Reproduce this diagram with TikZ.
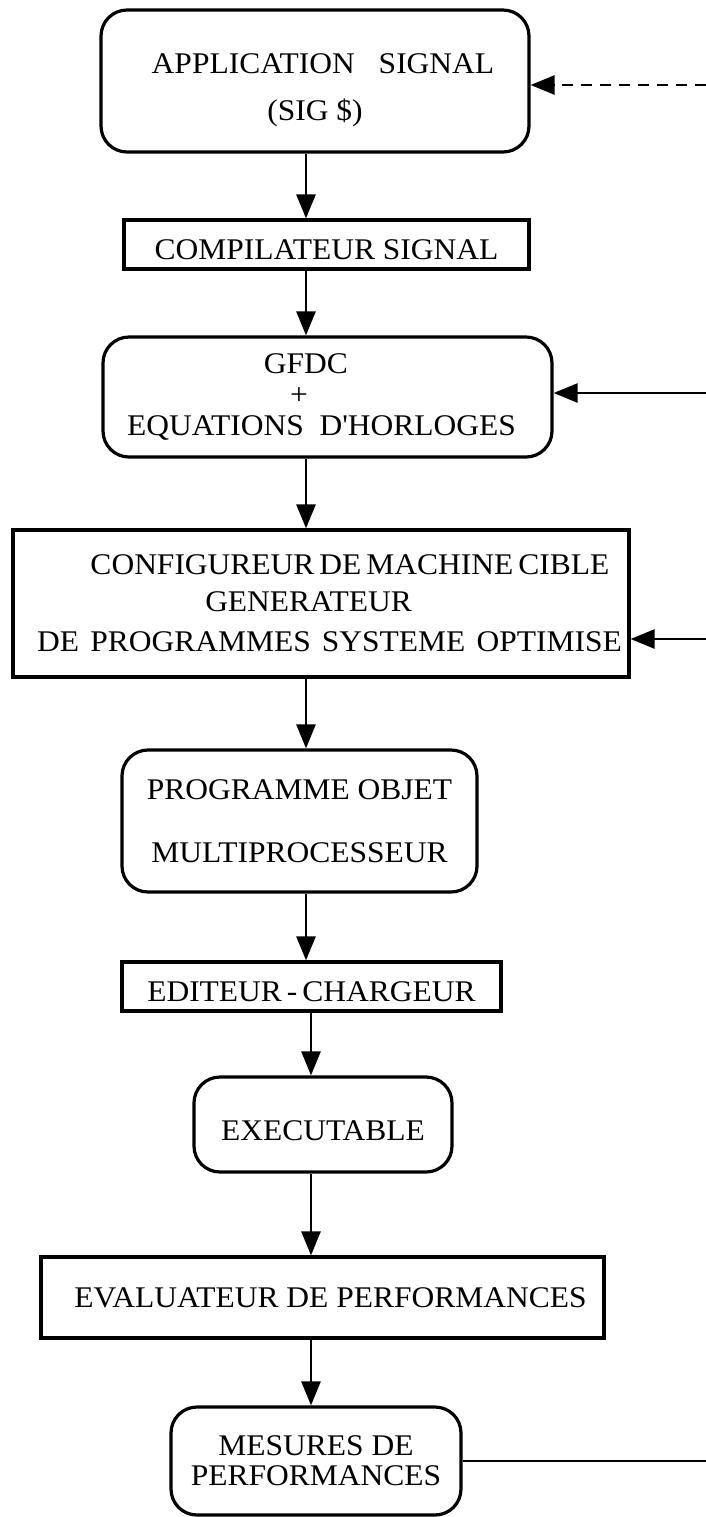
\documentclass[tikz,border=0pt]{standalone}
\usepackage{fontspec}
\setmainfont{Liberation Serif}[FakeStretch=1.05]
\usetikzlibrary{arrows.meta}

\begin{document}
\begin{tikzpicture}[x=0.5pt, y=-0.5pt,
		every node/.style={font=\fontsize{15}{17.5}\selectfont, align=center, inner sep=0pt},
		roundbox/.style={draw, line width=1.6pt, rounded corners=13pt},
		squarebox/.style={draw, line width=1.6pt},
		flow/.style={line width=1.3pt, -{Triangle[length=12pt, width=9.5pt]}}]
			%%%%% START %%%%%
			
			\useasboundingbox (0, 0) rectangle (706, 1517);
			
			\coordinate (axisA) at (306, 0);
			\coordinate (axisB) at (311, 0);
			\coordinate (edge) at (706, 0);
			
			\node[roundbox, minimum width=214pt, minimum height=71pt] (app) at (315, 81) {\rule{0pt}{19.5pt}\hbox{\kern8pt APPLICATION\hspace{0.8em}SIGNAL}\\[6pt](SIG \$)};
			\node[squarebox, minimum width=202.5pt, minimum height=24.5pt] (comp) at (326.5, 244.5) {\rule{0pt}{15pt}COMPILATEUR SIGNAL};
			\node[roundbox, minimum width=224.5pt, minimum height=60pt, font=\fontsize{15}{15.5}\selectfont] (gfdc) at (327.5, 397) {\hbox{GFDC\kern21.5pt}\\\hbox{+\kern28.5pt}\\\hbox{EQUATIONS\ \ D\textquotesingle HORLOGES\kern6pt}};
			\node[squarebox, minimum width=308pt, minimum height=73.5pt] (conf) at (321, 603.5) {\hbox{\kern29pt CONFIGUREUR\,DE\,MACHINE\,CIBLE}\\[1pt]\hbox{GENERATEUR\kern12.5pt}\\[2.5pt]\hbox{\kern8.5pt DE\hspace{.37em}PROGRAMMES\hspace{.37em}SYSTEME\hspace{.37em}OPTIMISE}};
			\node[roundbox, minimum width=177.5pt, minimum height=71pt] (prog) at (299.5, 821) {PROGRAMME OBJET\\[14pt]MULTIPROCESSEUR};
			\node[squarebox, minimum width=189.5pt, minimum height=24.5pt] (edit) at (311.5, 986.5) {\rule{0pt}{15.5pt}EDITEUR\,-\,CHARGEUR};
			\node[roundbox, minimum width=129pt, minimum height=47.5pt] (exec) at (323, 1124.5) {\rule{0pt}{16.5pt}EXECUTABLE};
			\node[squarebox, minimum width=281.5pt, minimum height=40.5pt] (eval) at (322.5, 1297.5) {\hbox{\kern8pt EVALUATEUR DE PERFORMANCES}};
			\node[roundbox, minimum width=145pt, minimum height=54pt, font=\fontsize{15}{15}\selectfont] (mes) at (316, 1461) {MESURES DE\\PERFORMANCES};
			
			% chaine principale
			\draw[flow] (app.south -| axisA) -- (comp.north -| axisA);
			\draw[flow] (comp.south -| axisA) -- (gfdc.north -| axisA);
			\draw[flow] (gfdc.south -| axisA) -- (conf.north -| axisA);
			\draw[flow] (conf.south -| axisA) -- (prog.north -| axisA);
			\draw[flow] (prog.south -| axisA) -- (edit.north -| axisA);
			\draw[flow] (edit.south -| axisB) -- (exec.north -| axisB);
			\draw[flow] (exec.south -| axisB) -- (eval.north -| axisB);
			\draw[flow] (eval.south -| axisB) -- (mes.north -| axisB);
			
			% retours
			\coordinate (back1) at (706, 85);
			\coordinate (back2) at (706, 393);
			\coordinate (back3) at (706, 639);
			\draw[flow, dash pattern=on 5.5pt off 4pt] (back1) -- (back1 -| app.east);
			\draw[flow] (back2) -- (back2 -| gfdc.east);
			\draw[flow] (back3) -- (back3 -| conf.east);
			\draw[line width=1.3pt] (mes.east) -- (mes.east -| edge);
			
			%%%%% END %%%%%
\end{tikzpicture}
\end{document}
